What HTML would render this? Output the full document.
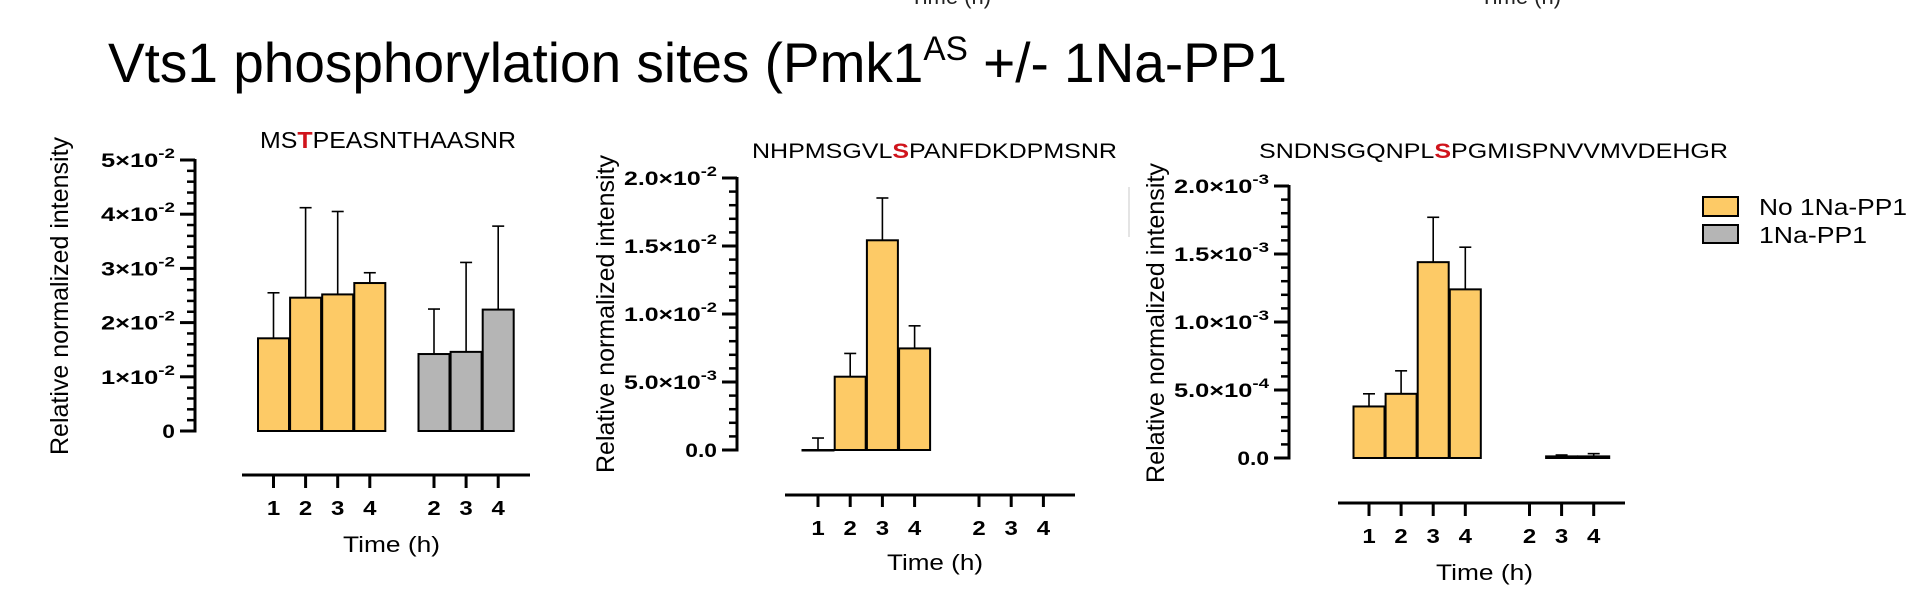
<!DOCTYPE html>
<html><head><meta charset="utf-8"><style>
html,body{margin:0;padding:0;background:#fff;}
svg{display:block;font-family:"Liberation Sans",Arial,sans-serif;}
</style></head><body>
<svg id="fig" width="1916" height="608" viewBox="0 0 1916 608" xmlns="http://www.w3.org/2000/svg">
<rect x="0" y="0" width="1916" height="608" fill="#ffffff"/>
<text x="910" y="4" font-size="22" fill="#222">Time (h)</text>
<text x="1480" y="4" font-size="22" fill="#222">Time (h)</text>
<line x1="1129" y1="187" x2="1129" y2="237" stroke="#e4e4e4" stroke-width="2"/>
<text x="108" y="82" font-size="56" textLength="1179" lengthAdjust="spacingAndGlyphs" fill="#000">Vts1 phosphorylation sites (Pmk1<tspan font-size="34" dy="-22">AS</tspan><tspan dy="22"> +/- 1Na-PP1</tspan></text>

<text x="260" y="148" font-size="23" textLength="256" lengthAdjust="spacingAndGlyphs">MS<tspan fill="#d0141c" font-weight="bold">T</tspan>PEASNTHAASNR</text>
<text x="752" y="158" font-size="21" textLength="365" lengthAdjust="spacingAndGlyphs">NHPMSGVL<tspan fill="#d0141c" font-weight="bold">S</tspan>PANFDKDPMSNR</text>
<text x="1259" y="158" font-size="21" textLength="469" lengthAdjust="spacingAndGlyphs">SNDNSGQNPL<tspan fill="#d0141c" font-weight="bold">S</tspan>PGMISPNVVMVDEHGR</text>

<text transform="translate(68,296) rotate(-90) scale(1,1.2)" text-anchor="middle" font-size="21" textLength="318" lengthAdjust="spacingAndGlyphs">Relative normalized intensity</text>
<text transform="translate(614,314) rotate(-90) scale(1,1.2)" text-anchor="middle" font-size="21" textLength="318" lengthAdjust="spacingAndGlyphs">Relative normalized intensity</text>
<text transform="translate(1164,323) rotate(-90) scale(1,1.2)" text-anchor="middle" font-size="21" textLength="320" lengthAdjust="spacingAndGlyphs">Relative normalized intensity</text>

<text x="343" y="552" font-size="22" textLength="97" lengthAdjust="spacingAndGlyphs">Time (h)</text>
<text x="887" y="570" font-size="22" textLength="96" lengthAdjust="spacingAndGlyphs">Time (h)</text>
<text x="1436" y="580" font-size="22" textLength="97" lengthAdjust="spacingAndGlyphs">Time (h)</text>

<g>
<rect x="1703" y="197" width="35" height="19" fill="#fdca66" stroke="#000" stroke-width="2"/>
<text x="1759" y="215" font-size="23" textLength="148" lengthAdjust="spacingAndGlyphs">No 1Na-PP1</text>
<rect x="1703" y="225" width="35" height="18" fill="#b5b5b5" stroke="#000" stroke-width="2"/>
<text x="1759" y="243" font-size="23" textLength="108" lengthAdjust="spacingAndGlyphs">1Na-PP1</text>
</g>
<g id="plots"></g>
</svg>
<script>
// ---- data ----
const timeLabels = ['1','2','3','4','','2','3','4'];
const p1NoDrug = [0.0171, 0.0246, 0.0252, 0.0273];
const p1NoDrugSD = [0.0084, 0.0166, 0.0153, 0.0019];
const p1Drug = [0.0142, 0.0146, 0.0224];
const p1DrugSD = [0.0083, 0.0165, 0.0154];
const p1YTicks = [0, 0.01, 0.02, 0.03, 0.04, 0.05];
const p1YLabels = ['0','1×10^-2','2×10^-2','3×10^-2','4×10^-2','5×10^-2'];

const p2NoDrug = [0, 0.00539, 0.01542, 0.00747];
const p2NoDrugSD = [0.00088, 0.00171, 0.00311, 0.00166];
const p2Drug = [0, 0, 0];
const p2DrugSD = [0, 0, 0];
const p2YTicks = [0, 0.005, 0.01, 0.015, 0.02];
const p2YLabels = ['0.0','5.0×10^-3','1.0×10^-2','1.5×10^-2','2.0×10^-2'];

const p3NoDrug = [0.000379, 0.000472, 0.00144, 0.00124];
const p3NoDrugSD = [0.000093, 0.000169, 0.00033, 0.00031];
const p3Drug = [0, 0.000012, 0.000012];
const p3DrugSD = [0, 0.00001, 0.00002];
const p3YTicks = [0, 0.0005, 0.001, 0.0015, 0.002];
const p3YLabels = ['0.0','5.0×10^-4','1.0×10^-3','1.5×10^-3','2.0×10^-3'];

// ---- layout (geometry, not data) ----
const panels = [
 {id:'panel1', ax:195, yTop:160, yZero:431, slot0:273.5, step:32.1, bw:31, xy:475, x1:242, x2:530, tb:488, lb:515, lw:74,
  no:p1NoDrug, noSD:p1NoDrugSD, dr:p1Drug, drSD:p1DrugSD, ticks:p1YTicks, labels:p1YLabels},
 {id:'panel2', ax:737, yTop:178, yZero:450, slot0:818, step:32.2, bw:31, xy:495, x1:785, x2:1075, tb:507, lb:535, lw:93,
  no:p2NoDrug, noSD:p2NoDrugSD, dr:p2Drug, drSD:p2DrugSD, ticks:p2YTicks, labels:p2YLabels},
 {id:'panel3', ax:1289, yTop:186, yZero:458, slot0:1369, step:32.1, bw:31, xy:503, x1:1338, x2:1625, tb:516, lb:543, lw:95,
  no:p3NoDrug, noSD:p3NoDrugSD, dr:p3Drug, drSD:p3DrugSD, ticks:p3YTicks, labels:p3YLabels}
];
const NS = 'http://www.w3.org/2000/svg';
const root = document.getElementById('plots');
function mk(tag, attrs, parent){
  const el = document.createElementNS(NS, tag);
  for (const k in attrs) el.setAttribute(k, attrs[k]);
  parent.appendChild(el);
  return el;
}
panels.forEach(p => {
  const g = mk('g', {}, root);
  
  
  const maxV = p.ticks[p.ticks.length-1];
  const y = v => p.yZero - (v / maxV) * (p.yZero - p.yTop);
  const xs = i => p.slot0 + i * p.step;
  // y axis
  const yl = mk('line', {x1:p.ax, y1:p.yTop-1, x2:p.ax, y2:p.yZero+1.5, stroke:'#000','stroke-width':3}, g);
  
  
  for (let t = 0; t < p.ticks.length; t++) {
    const ty = y(p.ticks[t]);
    const tk = mk('line', {x1:p.ax-15, y1:ty, x2:p.ax, y2:ty, stroke:'#000','stroke-width':3}, g);
    
    
    if (t < p.ticks.length - 1) {
      const d = (p.ticks[t+1] - p.ticks[t]) / 5;
      for (let m = 1; m < 5; m++) {
        const my = y(p.ticks[t] + d*m);
        const mt = mk('line', {x1:p.ax-8, y1:my, x2:p.ax, y2:my, stroke:'#000','stroke-width':2.5}, g);
        
        
      }
    }
    const parts = p.labels[t].split('^');
    const tx = mk('text', {x:p.ax-20, y:ty+7, 'text-anchor':'end','font-size':19,'font-weight':'bold'}, g);
    
    
    tx.textContent = parts[0];
    if (parts.length > 1) {
      const sp = mk('tspan', {'font-size':14, dy:-9}, tx);
      sp.textContent = parts[1];
      tx.setAttribute('textLength', p.lw);
      tx.setAttribute('lengthAdjust', 'spacingAndGlyphs');
    } else {
      tx.setAttribute('transform', 'translate(' + (p.ax-20) + ',0) scale(1.2,1) translate(' + (-(p.ax-20)) + ',0)');
    }
  }
  // bars
  const drawBar = (i, v, sd, fill, nm) => {
    if (v <= 0 && sd <= 0) return;
    const cx = xs(i);
    const top = y(v);
    if (sd > 0) {
      const et = y(v + sd);
      const el = mk('line', {x1:cx, y1:top, x2:cx, y2:et, stroke:'#000','stroke-width':1.6}, g);
      
      
      const ec = mk('line', {x1:cx-6, y1:et, x2:cx+6, y2:et, stroke:'#000','stroke-width':1.6}, g);
      
      
    }
    const r = mk('rect', {x:cx - p.bw/2, y:top, width:p.bw, height:Math.max(p.yZero - top, 0.5), fill:fill, stroke:'#000','stroke-width':2}, g);
    
    
  };
  p.no.forEach((v, i) => drawBar(i, v, p.noSD[i], '#fdca66', p.id + '-bar-no-drug-' + timeLabels[i] + 'h'));
  p.dr.forEach((v, i) => drawBar(i + 5, v, p.drSD[i], '#b5b5b5', p.id + '-bar-drug-' + timeLabels[i+5] + 'h'));
  // x axis
  const xl = mk('line', {x1:p.x1, y1:p.xy, x2:p.x2, y2:p.xy, stroke:'#000','stroke-width':3}, g);
  
  
  timeLabels.forEach((lab, i) => {
    if (lab === '') return;
    const cx = xs(i);
    const tk = mk('line', {x1:cx, y1:p.xy, x2:cx, y2:p.tb, stroke:'#000','stroke-width':3}, g);
    
    
    const tx = mk('text', {transform:'translate(' + cx + ',' + p.lb + ') scale(1.2,1)', 'text-anchor':'middle','font-size':20,'font-weight':'bold'}, g);
    
    
    tx.textContent = lab;
  });
});
</script>
</body></html>
